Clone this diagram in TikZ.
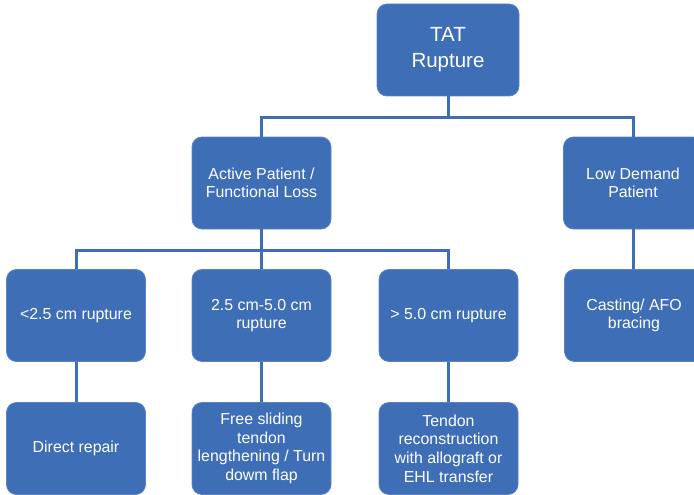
\documentclass[tikz,border=0pt]{standalone}
\usepackage{fontspec}
\setmainfont{Liberation Sans}
\definecolor{boxblue}{RGB}{61,110,182}
\tikzset{
  stepbox/.style={draw=boxblue!85!white, line width=0.8pt, fill=boxblue, rounded corners=10pt,
    minimum width=139pt, minimum height=92pt, align=center, text=white,
    font=\fontsize{15.9pt}{18.6pt}\selectfont, inner sep=2pt},
  link/.style={draw=boxblue, line width=3pt}
}
\begin{document}
\begin{tikzpicture}[x=1pt, y=-1pt]
\clip (0,0) rectangle (694,495);
% top level
\node [stepbox, minimum width=142pt, font=\fontsize{20.5pt}{26pt}\selectfont] (tat) at (448,50) {TAT\\Rupture};
% second level
\node [stepbox] (active) at (261.5,183) {Active Patient /\\Functional Loss};
\node [stepbox] (low) at (633,183) {Low Demand\\Patient};
% third level
\node [stepbox] (short) at (76,315.5) {<2.5 cm rupture};
\node [stepbox] (mid) at (261.5,315.5) {2.5 cm-5.0 cm\\rupture};
\node [stepbox] (long) at (448.5,315.5) {> 5.0 cm rupture};
\node [stepbox] (cast) at (634,315.5) {Casting/ AFO\\bracing};
% treatment
\node [stepbox] (repair) at (76,448.5) {Direct repair};
\node [stepbox] (turn) at (261.5,448.5) {Free sliding\\tendon\\lengthening / Turn\\dowm flap};
\node [stepbox] (recon) at (448.5,448.5) {Tendon\\reconstruction\\with allograft or\\EHL transfer};
% connectors
\draw [link] (tat.south) -- ++(0,21) -| (active.north);
\draw [link] (tat.south) -- ++(0,21) -| (low.north);
\draw [link] (active.south) -- ++(0,21) -| (short.north);
\draw [link] (active.south) -- ++(0,21) -| (mid.north);
\draw [link] (active.south) -- ++(0,21) -| (long.north);
\draw [link] (low.south) -- (low.south |- cast.north);
\draw [link] (short) -- (repair);
\draw [link] (mid) -- (turn);
\draw [link] (long) -- (recon);
\end{tikzpicture}
\end{document}
